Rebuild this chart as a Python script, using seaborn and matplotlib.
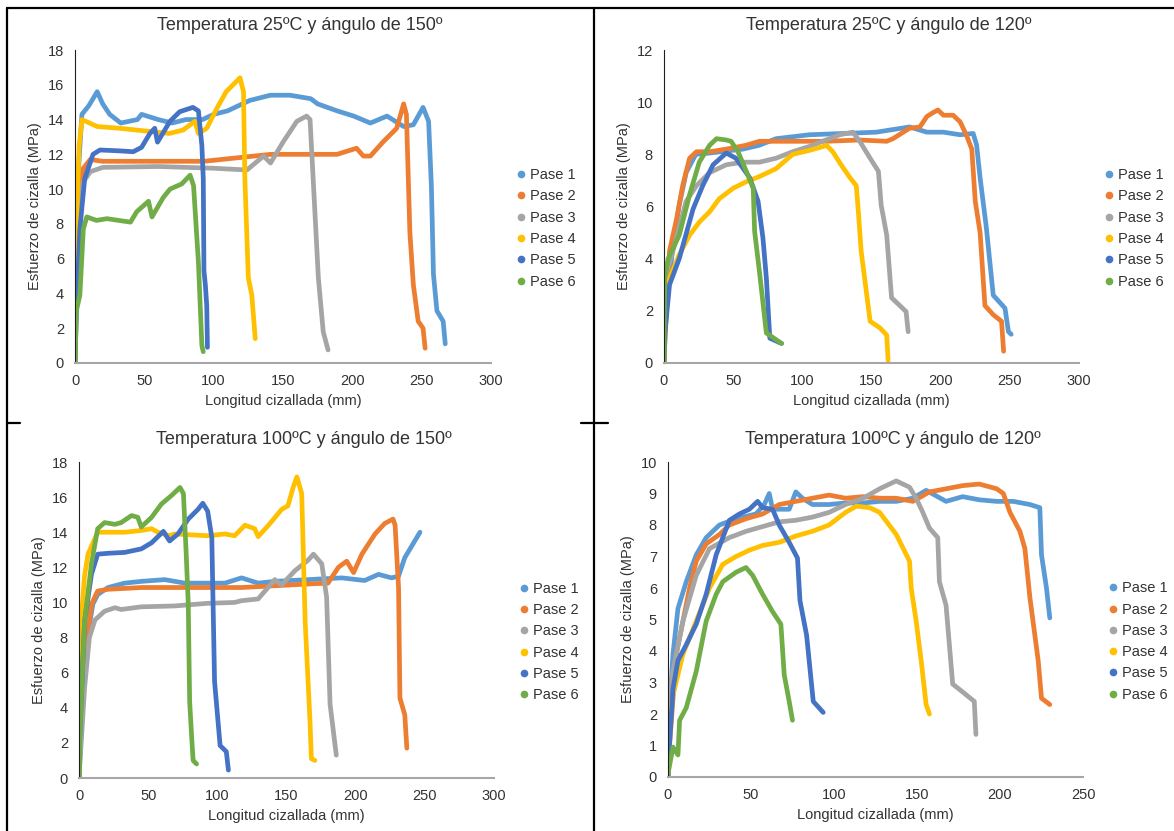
import pandas as pd
import matplotlib.pyplot as plt
from matplotlib.lines import Line2D
import seaborn as sns

names = ['Pase 1', 'Pase 2', 'Pase 3', 'Pase 4', 'Pase 5', 'Pase 6']
colors = ['#5B9BD5', '#ED7D31', '#A5A5A5', '#FFC000', '#4472C4', '#70AD47']

# Temperatura 25ºC, ángulo 150º
a_x1 = [0, 1, 2, 5, 10, 16, 20, 25, 33, 45, 48, 60, 70, 80, 92, 100, 110, 126, 141, 155, 170, 175, 189, 201, 213, 225, 237, 244, 251, 255, 257, 258.5, 261, 265.5, 267]
a_y1 = [0, 6, 10.5, 14.3, 14.8, 15.6, 14.9, 14.3, 13.8, 14.0, 14.3, 14.0, 13.8, 14.0, 14.0, 14.3, 14.5, 15.1, 15.4, 15.4, 15.2, 14.9, 14.5, 14.2, 13.8, 14.2, 13.6, 13.7, 14.7, 13.9, 10.2, 5.1, 3.0, 2.4, 1.1]
a_x2 = [0, 1, 3, 6, 11, 20, 68, 93, 117, 141, 165, 189, 203, 208, 213, 222, 232, 237, 239, 241.5, 244, 247.5, 251, 252.5]
a_y2 = [0, 5, 10, 11.2, 11.7, 11.6, 11.6, 11.6, 11.8, 12.0, 12.0, 12.0, 12.35, 11.9, 11.9, 12.7, 13.5, 14.9, 14.3, 7.5, 4.5, 2.4, 2.0, 0.85]
a_x3 = [0, 1, 3, 6, 11, 20, 60, 100, 124, 136, 141, 150, 160, 167, 169.5, 173, 175.5, 179, 182.5]
a_y3 = [0, 4, 9.5, 10.4, 11.0, 11.25, 11.3, 11.2, 11.1, 11.9, 11.5, 12.7, 13.9, 14.2, 14.0, 8.7, 4.9, 1.8, 0.75]
a_x4 = [0, 0.5, 1.5, 3, 5, 16, 32, 56, 68, 78, 86.5, 89, 95, 102, 109, 114, 119, 121.5, 122.5, 125, 127.5, 130]
a_y4 = [0, 4, 9, 12.5, 14.0, 13.6, 13.5, 13.3, 13.2, 13.4, 13.9, 13.2, 13.5, 14.6, 15.6, 16.0, 16.4, 15.6, 10.6, 4.9, 3.9, 1.4]
a_x5 = [0, 1, 3.5, 7, 13, 18, 32, 42, 48, 54, 57.5, 59.5, 68.5, 75.5, 85, 89, 91.5, 92.5, 93, 94, 95, 95.5]
a_y5 = [0, 3, 7.7, 10.6, 12.0, 12.25, 12.2, 12.15, 12.4, 13.2, 13.5, 12.7, 13.9, 14.45, 14.7, 14.5, 12.5, 10.6, 5.3, 4.5, 3.3, 0.9]
a_x6 = [0, 1, 3.5, 6, 8.5, 15.5, 23, 40, 44.5, 53, 55.5, 63.5, 68.5, 77, 83, 85.5, 89, 91.5, 92.5]
a_y6 = [0, 3, 3.9, 7.7, 8.4, 8.2, 8.3, 8.1, 8.7, 9.3, 8.4, 9.5, 10.0, 10.3, 10.8, 10.2, 5.8, 1.0, 0.65]

# Temperatura 25ºC, ángulo 120º
b_x1 = [0, 1.5, 6.5, 11, 16, 23, 33, 57, 69, 81, 105, 129.5, 153.5, 177.5, 190, 202, 214, 223.5, 226, 228.5, 233, 238, 246.5, 249, 251]
b_y1 = [0, 2.0, 4.5, 6.05, 7.3, 8.0, 8.05, 8.2, 8.35, 8.6, 8.75, 8.8, 8.85, 9.05, 8.85, 8.85, 8.75, 8.8, 8.35, 7.1, 5.2, 2.6, 2.1, 1.2, 1.1]
b_x2 = [0, 0.5, 4, 9, 13.5, 18.5, 23.5, 33, 45, 59.5, 69, 93, 117, 141.5, 161, 165.5, 177.5, 185, 190, 194.5, 198, 202, 209, 214, 218.5, 222.5, 225, 228.5, 232, 238, 244, 245.5]
b_y2 = [0, 0.7, 4.3, 5.5, 6.8, 7.85, 8.1, 8.1, 8.2, 8.35, 8.5, 8.5, 8.5, 8.55, 8.5, 8.6, 9.0, 9.05, 9.45, 9.6, 9.7, 9.5, 9.5, 9.25, 8.75, 8.2, 6.2, 5.0, 2.2, 1.85, 1.6, 0.45]
b_x3 = [0, 0.5, 6.5, 16, 23.5, 33, 45, 57, 69, 81, 93, 105, 117, 127, 136.5, 141.5, 149, 155, 157, 161, 164.5, 170.5, 175, 176.5]
b_y3 = [0, 3.25, 4.3, 6.2, 6.8, 7.3, 7.6, 7.7, 7.7, 7.85, 8.1, 8.3, 8.55, 8.75, 8.85, 8.5, 7.85, 7.35, 6.05, 4.9, 2.5, 2.2, 1.97, 1.2]
b_x4 = [0, 0.5, 4, 11, 18.5, 25.5, 33, 40, 50, 59.5, 69, 81, 93, 105, 115, 117.5, 122, 128, 134.5, 139, 140.5, 142.5, 149, 156, 161, 162]
b_y4 = [0, 2.6, 3.25, 4.15, 4.9, 5.4, 5.8, 6.3, 6.7, 6.95, 7.15, 7.45, 8.0, 8.15, 8.3, 8.35, 8.1, 7.6, 7.1, 6.8, 5.8, 4.3, 1.6, 1.35, 1.07, 0.1]
b_x5 = [0, 0.5, 4, 11, 21, 28, 35.5, 45, 52, 62, 68, 71.5, 74, 76.5, 85]
b_y5 = [0, 1.07, 3.0, 4.0, 5.9, 6.8, 7.6, 8.05, 7.85, 7.1, 6.2, 4.8, 3.25, 0.95, 0.75]
b_x6 = [0, 0.5, 3, 11, 18.5, 25.5, 33, 38, 45, 48.5, 53.5, 59.5, 64.5, 65.5, 69, 74, 85]
b_y6 = [0, 3.25, 4.0, 4.9, 6.45, 7.7, 8.35, 8.6, 8.55, 8.5, 8.1, 7.35, 6.7, 5.05, 3.5, 1.15, 0.75]

# Temperatura 100ºC, ángulo 150º
c_x1 = [0, 2, 5, 10, 13.5, 21, 33, 45, 62, 76.5, 86, 105.5, 117.5, 129.5, 141.5, 165.5, 190, 206.5, 216.5, 226, 231, 235.5, 246.5]
c_y1 = [0, 4, 7.5, 9.9, 10.45, 10.85, 11.1, 11.2, 11.3, 11.1, 11.1, 11.1, 11.4, 11.1, 11.2, 11.3, 11.4, 11.25, 11.6, 11.4, 11.5, 12.55, 14.0]
c_x2 = [0, 2, 4.5, 9, 13.5, 21, 45, 69, 93, 117.5, 141.5, 165.5, 180, 187.5, 193.5, 198.5, 204.5, 214, 221, 227, 228.5, 231, 232, 235.5, 237]
c_y2 = [0, 4, 7.0, 9.9, 10.65, 10.75, 10.85, 10.85, 10.85, 10.85, 10.95, 11.05, 11.1, 12.0, 12.35, 11.7, 12.75, 13.9, 14.5, 14.75, 14.4, 10.85, 4.55, 3.6, 1.7]
c_x3 = [0, 2, 4, 7.5, 11.5, 18.5, 26, 30.5, 45, 69, 93, 112.5, 117.5, 129.5, 141.5, 146.5, 156, 165.5, 169.5, 175.5, 179, 181.5, 186]
c_y3 = [0, 2.5, 5.1, 8.0, 9.0, 9.5, 9.7, 9.6, 9.75, 9.8, 9.95, 10.0, 10.1, 10.2, 11.3, 11.0, 11.8, 12.4, 12.75, 12.2, 10.3, 4.2, 1.3]
c_x4 = [0, 1.5, 4, 6.5, 13.5, 21, 33, 45, 52.5, 57, 65.5, 69, 93, 105.5, 112.5, 120, 127, 129.5, 137, 146.5, 151, 155, 157.5, 161, 163.5, 167, 168, 170.5]
c_y4 = [0, 8.9, 11.5, 12.75, 14.0, 14.0, 14.0, 14.1, 14.2, 14.0, 13.8, 13.9, 13.8, 13.9, 13.8, 14.4, 14.2, 13.75, 14.4, 15.3, 15.5, 16.6, 17.15, 16.2, 8.9, 3.2, 1.1, 1.0]
c_x5 = [0, 0.5, 4, 9, 13.5, 21, 33, 45, 52.5, 61, 65.5, 71.5, 79, 86, 89.5, 93, 96, 98, 102, 106.5, 108]
c_y5 = [0, 2.25, 8.9, 11.6, 12.75, 12.8, 12.85, 13.05, 13.4, 14.05, 13.5, 13.9, 14.75, 15.3, 15.65, 15.2, 13.7, 5.5, 1.85, 1.5, 0.45]
c_x6 = [0, 0.5, 4, 9, 13.5, 18.5, 26, 30.5, 38, 42.5, 45, 52.5, 59.5, 67, 73, 75.5, 77.5, 79, 79.5, 80, 81.5, 82.5, 85]
c_y6 = [0, 2.25, 8.9, 12.2, 14.2, 14.55, 14.45, 14.55, 14.95, 14.85, 14.3, 14.85, 15.6, 16.1, 16.55, 16.2, 12.75, 9.9, 7.0, 4.35, 2.25, 1.0, 0.8]

# Temperatura 100ºC, ángulo 120º
d_x1 = [0, 0.5, 3, 6, 11, 17, 23, 31, 41, 53, 58, 61, 63, 73, 77, 81, 87, 97, 107, 117.5, 127.5, 137.5, 147.5, 155.5, 167.5, 177.5, 187.5, 198, 208, 218, 224, 225, 228, 230]
d_y1 = [0, 1.8, 3.9, 5.35, 6.2, 7.05, 7.6, 8.0, 8.2, 8.35, 8.65, 9.0, 8.5, 8.5, 9.05, 8.85, 8.65, 8.65, 8.7, 8.7, 8.75, 8.75, 8.85, 9.1, 8.75, 8.9, 8.8, 8.75, 8.75, 8.65, 8.55, 7.05, 6.0, 5.05]
d_x2 = [0, 0.5, 5, 9, 13, 17, 23, 31, 37, 47, 57, 67, 77, 87, 97, 107, 117.5, 127.5, 137.5, 147.5, 157.5, 167.5, 177.5, 187.5, 198, 202, 206, 212, 215, 218, 223, 225, 230]
d_y2 = [0, 0.7, 3.9, 4.95, 6.0, 6.85, 7.4, 7.7, 8.0, 8.2, 8.35, 8.65, 8.75, 8.85, 8.95, 8.85, 8.9, 8.85, 8.85, 8.75, 9.05, 9.15, 9.25, 9.3, 9.15, 9.0, 8.4, 7.8, 7.25, 5.7, 3.7, 2.5, 2.3]
d_x3 = [0, 1, 5, 9, 17, 25, 37, 47, 57, 67, 77, 87, 97, 107, 117.5, 127.5, 137.5, 145.5, 149.5, 153.5, 157.5, 162.5, 163.5, 167.5, 171.5, 177.5, 184.5, 185.5]
d_y3 = [0, 2.8, 3.9, 4.95, 6.4, 7.25, 7.6, 7.8, 7.95, 8.1, 8.15, 8.25, 8.4, 8.65, 8.85, 9.15, 9.4, 9.2, 8.85, 8.4, 7.9, 7.6, 6.2, 5.45, 2.95, 2.7, 2.4, 1.35]
d_x4 = [0, 0.5, 3, 9, 17, 25, 33, 41, 49, 57, 67, 77, 87, 97, 107, 113.5, 121.5, 127.5, 137.5, 145.5, 146.5, 149.5, 152.5, 155.5, 157.5]
d_y4 = [0, 1.8, 2.6, 3.9, 4.95, 6.0, 6.75, 7.0, 7.2, 7.35, 7.45, 7.65, 7.8, 8.0, 8.4, 8.6, 8.55, 8.4, 7.7, 6.85, 6.0, 4.95, 3.7, 2.3, 2.0]
d_x5 = [0, 0.5, 3, 6, 11, 17, 23, 29, 37, 43, 49, 54, 57, 63, 67, 73, 78, 79.5, 83.5, 87.5, 93.5]
d_y5 = [0, 0.7, 2.8, 3.7, 4.2, 4.85, 5.8, 7.05, 8.15, 8.35, 8.5, 8.75, 8.55, 8.5, 8.0, 7.45, 6.95, 5.6, 4.5, 2.4, 2.05]
d_x6 = [0, 3, 6, 7, 11, 17, 23, 29, 33, 41, 47, 51, 57, 63, 68, 70, 73, 75]
d_y6 = [0.1, 0.95, 0.7, 1.8, 2.2, 3.35, 4.95, 5.8, 6.2, 6.5, 6.65, 6.4, 5.8, 5.25, 4.85, 3.25, 2.4, 1.8]

titles = ['Temperatura 25ºC y ángulo de 150º', 'Temperatura 25ºC y ángulo de 120º',
          'Temperatura 100ºC y ángulo de 150º', 'Temperatura 100ºC y ángulo de 120º']
x_max = [300, 300, 300, 250]
y_max = [18, 12, 18, 10]
y_step = [2, 2, 2, 1]


def long_df(xs, ys):
    parts = [pd.DataFrame({'x': x, 'y': y, 'Pase': n}) for n, x, y in zip(names, xs, ys)]
    return pd.concat(parts, ignore_index=True)


data = [
    long_df([a_x1, a_x2, a_x3, a_x4, a_x5, a_x6], [a_y1, a_y2, a_y3, a_y4, a_y5, a_y6]),
    long_df([b_x1, b_x2, b_x3, b_x4, b_x5, b_x6], [b_y1, b_y2, b_y3, b_y4, b_y5, b_y6]),
    long_df([c_x1, c_x2, c_x3, c_x4, c_x5, c_x6], [c_y1, c_y2, c_y3, c_y4, c_y5, c_y6]),
    long_df([d_x1, d_x2, d_x3, d_x4, d_x5, d_x6], [d_y1, d_y2, d_y3, d_y4, d_y5, d_y6]),
]

sns.set_style("white")
plt.rcParams['font.family'] = ['Liberation Sans', 'DejaVu Sans']
txt = '#333333'

W, H = 1174, 831
# axes boxes in pixels: left, right, top, bottom
boxes = [(75, 491, 50, 363), (664, 1079, 50, 363), (79, 494, 462, 778), (668, 1083, 462, 777)]
title_pos = [(300, 26), (889, 26), (304, 439), (893, 439)]

fig = plt.figure(figsize=(W / 100, H / 100), dpi=100)

for i, df in enumerate(data):
    l, r, t, b = boxes[i]
    ax = fig.add_axes([l / W, 1 - b / H, (r - l) / W, (b - t) / H])
    sns.lineplot(data=df, x='x', y='y', hue='Pase', hue_order=names, palette=colors,
                 sort=False, estimator=None, linewidth=3.4, legend=False, ax=ax,
                 solid_capstyle='round', solid_joinstyle='round')
    ax.set_xlim(0, x_max[i])
    ax.set_ylim(0, y_max[i])
    ax.set_xticks(range(0, x_max[i] + 1, 50))
    ax.set_yticks(range(0, y_max[i] + 1, y_step[i]))
    ax.tick_params(length=0, labelsize=10.5, labelcolor=txt, pad=8)
    sns.despine(ax=ax)
    ax.spines['left'].set_color('#202020')
    ax.spines['left'].set_linewidth(0.8)
    ax.spines['bottom'].set_color('#A6A6A6')
    ax.spines['bottom'].set_linewidth(1.5)
    ax.set_xlabel('Longitud cizallada (mm)', fontsize=10.5, color=txt, labelpad=4)
    ax.set_ylabel('Esfuerzo de cizalla (MPa)', fontsize=10.5, color=txt, labelpad=4)
    handles = [Line2D([], [], marker='o', ls='', color=c, markersize=4.5) for c in colors]
    ax.legend(handles, names, loc='center left', bbox_to_anchor=(1.058, 0.43), frameon=False,
              fontsize=10.5, labelcolor=txt, handlelength=0.8, handletextpad=0.25,
              labelspacing=0.5, borderpad=0, borderaxespad=0)
    tx, ty = title_pos[i]
    fig.text(tx / W, 1 - ty / H, titles[i], ha='center', va='center', fontsize=13, color=txt)

# table borders from the document screenshot
def seg(x0, y0, x1, y1, lw=1.6):
    fig.add_artist(Line2D([x0 / W, x1 / W], [1 - y0 / H, 1 - y1 / H], color='black', lw=lw,
                          transform=fig.transFigure))

seg(7, 8, W, 8)
seg(7, 8, 7, H)
seg(594, 8, 594, H)
seg(7, 423, 20, 423)
seg(581, 423, 608, 423)

fig.savefig('out.png', dpi=100)
